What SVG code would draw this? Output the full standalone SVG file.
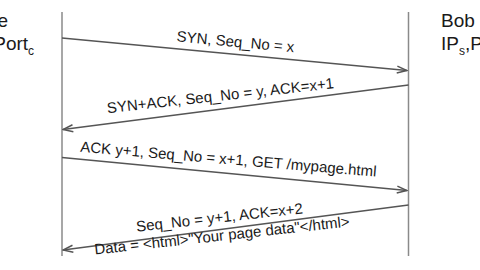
<svg xmlns="http://www.w3.org/2000/svg" width="480" height="270" viewBox="0 0 480 270">
  <style>
    .head { font-family: "Liberation Sans", Arial, sans-serif; font-size: 19px; fill: #1a1a1a; }
    .sub { font-size: 12px; }
    .lbl { font-family: "Liberation Sans", Arial, sans-serif; font-size: 15px; fill: #1a1a1a; text-anchor: middle; }
    .life { stroke: #8a8a8a; stroke-width: 1.5; fill: none; }
    .msg { stroke: #555; stroke-width: 1.4; fill: none; marker-end: url(#arrow); }
  </style>
  <defs>
    <marker id="arrow" viewBox="0 0 12 10" refX="11" refY="5" markerWidth="12" markerHeight="10" markerUnits="userSpaceOnUse" orient="auto">
      <path d="M1,1.5 L11,5 L1,8.5" fill="none" stroke="#555" stroke-width="1.5" stroke-linejoin="miter"/>
    </marker>
  </defs>
  <rect width="480" height="270" fill="#fff"/>

  <!-- client side -->
  <g id="alice">
    <text class="head" x="-33" y="27">Alice</text>
    <text class="head" x="-36" y="50">IP<tspan class="sub" dy="5">c</tspan><tspan dy="-5">,Port</tspan><tspan class="sub" dy="5">c</tspan></text>
    <line class="life" x1="62" y1="12" x2="62" y2="256"/>
  </g>

  <!-- server side -->
  <g id="bob">
    <text class="head" x="441" y="27">Bob</text>
    <text class="head" x="441" y="50">IP<tspan class="sub" dy="5">s</tspan><tspan dy="-5">,Port</tspan><tspan class="sub" dy="5">s</tspan></text>
    <line class="life" x1="408.5" y1="12" x2="408.5" y2="256"/>
  </g>

  <!-- handshake and request/response messages -->
  <g id="messages">
    <line class="msg" x1="62" y1="38" x2="407" y2="70.5"/>
    <line class="msg" x1="408.5" y1="85" x2="63" y2="129.5"/>
    <line class="msg" x1="62" y1="157.5" x2="407" y2="190.5"/>
    <line class="msg" x1="408.5" y1="205" x2="63" y2="250"/>

    <text class="lbl" transform="translate(235,46.8) rotate(5.3)">SYN, Seq_No = x</text>
    <text class="lbl" transform="translate(221,100.7) rotate(-6.3)">SYN+ACK, Seq_No = y, ACK=x+1</text>
    <text class="lbl" transform="translate(228,164.2) rotate(4.8)">ACK y+1, Seq_No = x+1, GET /mypage.html</text>
    <text class="lbl" transform="translate(220,222.5) rotate(-6.3)">Seq_No = y+1, ACK=x+2</text>
    <text class="lbl" transform="translate(222.5,240.5) rotate(-6.3)">Data = &lt;html&gt;"Your page data"&lt;/html&gt;</text>
  </g>
</svg>
